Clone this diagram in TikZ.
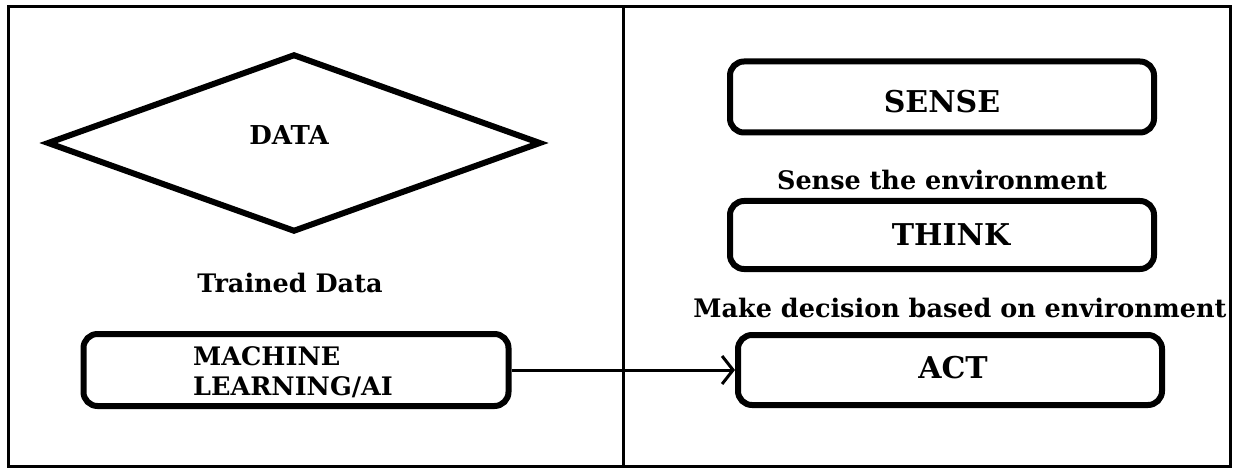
\documentclass[tikz,border=0pt]{standalone}
\usepackage{fontspec}
\setmainfont{DejaVu Serif}
\usetikzlibrary{shapes.geometric,arrows.meta}
\begin{document}
\begin{tikzpicture}[x=1pt,y=-1pt,
  frameline/.style={line width=3pt},
  roundbox/.style={draw, line width=6pt, rounded corners=14pt, inner sep=0pt},
  boxtext/.style={font=\bfseries\fontsize{30}{33}\selectfont},
  labeltext/.style={font=\bfseries\fontsize{25.5}{28}\selectfont},
  datatext/.style={font=\bfseries\fontsize{26}{28}\selectfont},
  mlstyle/.style={font=\bfseries\fontsize{25.5}{30}\selectfont},
  conn/.style={line width=3pt, -{Straight Barb[length=11pt,width=28pt,line width=3pt]}}]
\useasboundingbox (0,0) rectangle (1239,473);
\fill[white] (0,0) rectangle (1239,473);
% frame and divider
\draw[frameline] (8,7) rectangle (1230,466);
\coordinate (divtop) at (623,7);
\coordinate (divbot) at (623,466);
\draw[frameline] (divtop) -- (divbot);
% left panel
\node[diamond, draw, line width=6pt, minimum width=494pt, minimum height=178pt, inner sep=0pt] (datashape) at (294,143) {};
\node[datatext] (datatext) at (289,135) {DATA};
\node[labeltext] (trained) at (290,283) {Trained Data};
\node[roundbox, minimum width=425pt, minimum height=72pt] (ml) at (296,370) {};
\node[mlstyle, align=left] (mltext) at (293,372) {MACHINE\\LEARNING/AI};
% right panel
\node[roundbox, minimum width=424pt, minimum height=71pt] (sense) at (942,97) {};
\node[boxtext] (sensetext) at (942,102) {SENSE};
\node[labeltext] (senselbl) at (942,180) {Sense the environment};
\node[roundbox, minimum width=424pt, minimum height=68pt] (think) at (942,235) {};
\node[boxtext] (thinktext) at (951,235) {THINK};
\node[labeltext] (thinklbl) at (960,308) {Make decision based on environment};
\node[roundbox, minimum width=424pt, minimum height=70pt] (act) at (950,370) {};
\node[boxtext] (acttext) at (953,368) {ACT};
% connector
\draw[conn] (ml.east) -- (act.west);
\end{tikzpicture}
\end{document}
